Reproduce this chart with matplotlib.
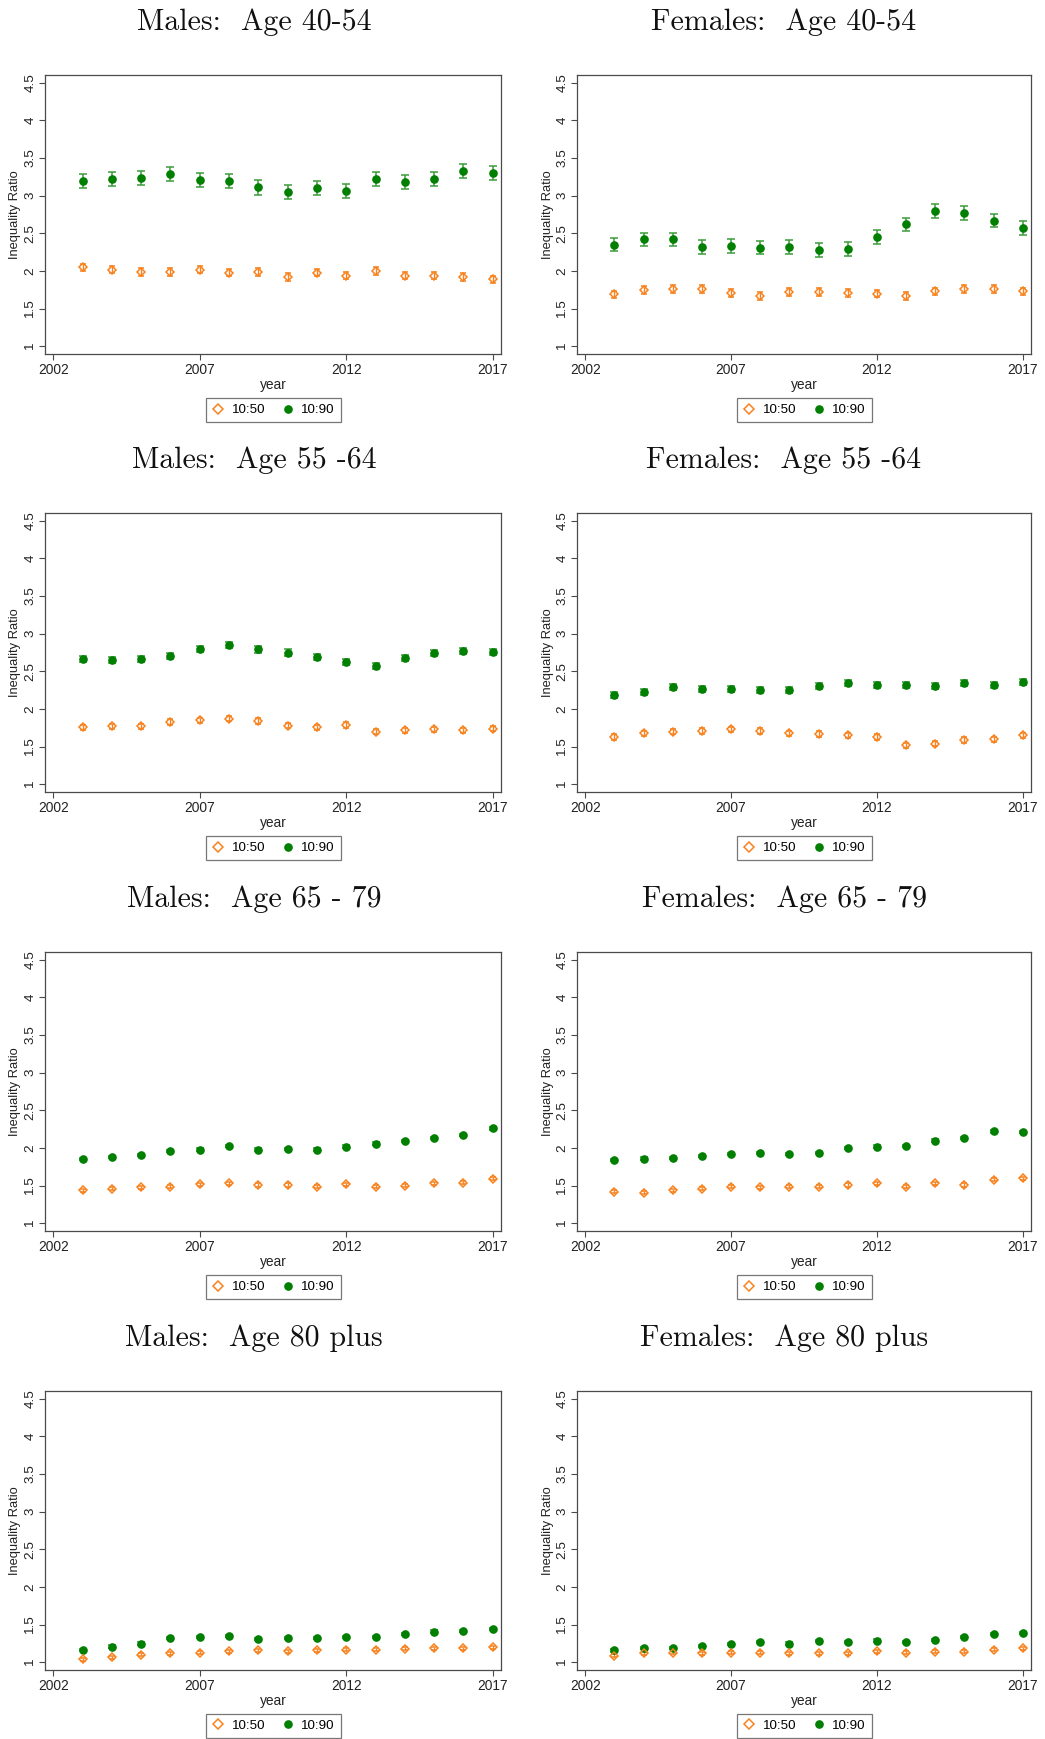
import matplotlib
matplotlib.use("Agg")
import matplotlib.pyplot as plt
from matplotlib.lines import Line2D

years = list(range(2003, 2018))

titles = ["Males:  Age 40-54", "Females:  Age 40-54",
          "Males:  Age 55 -64", "Females:  Age 55 -64",
          "Males:  Age 65 - 79", "Females:  Age 65 - 79",
          "Males:  Age 80 plus", "Females:  Age 80 plus"]

# 10:90 ratios
r90_m4054 = [3.19, 3.22, 3.23, 3.29, 3.21, 3.19, 3.11, 3.05, 3.10, 3.06, 3.22, 3.18, 3.22, 3.33, 3.30]
r90_f4054 = [2.35, 2.42, 2.42, 2.32, 2.33, 2.31, 2.32, 2.28, 2.29, 2.45, 2.62, 2.80, 2.77, 2.67, 2.57]
r90_m5564 = [2.66, 2.65, 2.66, 2.70, 2.80, 2.85, 2.79, 2.75, 2.69, 2.62, 2.57, 2.68, 2.74, 2.77, 2.76]
r90_f5564 = [2.18, 2.23, 2.29, 2.26, 2.26, 2.25, 2.25, 2.30, 2.34, 2.32, 2.32, 2.31, 2.34, 2.32, 2.36]
r90_m6579 = [1.85, 1.88, 1.91, 1.96, 1.98, 2.03, 1.98, 1.99, 1.98, 2.02, 2.06, 2.09, 2.13, 2.17, 2.26]
r90_f6579 = [1.84, 1.86, 1.87, 1.89, 1.92, 1.93, 1.92, 1.93, 2.00, 2.02, 2.03, 2.10, 2.13, 2.22, 2.21]
r90_m80 = [1.17, 1.21, 1.25, 1.32, 1.34, 1.35, 1.31, 1.32, 1.32, 1.34, 1.34, 1.38, 1.41, 1.42, 1.44]
r90_f80 = [1.16, 1.19, 1.19, 1.22, 1.24, 1.27, 1.25, 1.28, 1.27, 1.29, 1.27, 1.30, 1.34, 1.38, 1.39]

# 10:50 ratios
r50_m4054 = [2.05, 2.02, 1.99, 1.99, 2.02, 1.98, 1.99, 1.92, 1.98, 1.94, 2.00, 1.94, 1.94, 1.92, 1.89]
r50_f4054 = [1.69, 1.75, 1.76, 1.76, 1.71, 1.67, 1.72, 1.72, 1.71, 1.70, 1.67, 1.73, 1.76, 1.76, 1.73]
r50_m5564 = [1.76, 1.77, 1.77, 1.83, 1.85, 1.87, 1.84, 1.78, 1.76, 1.79, 1.70, 1.72, 1.73, 1.72, 1.74]
r50_f5564 = [1.63, 1.68, 1.70, 1.71, 1.73, 1.71, 1.68, 1.67, 1.65, 1.63, 1.52, 1.54, 1.59, 1.60, 1.65]
r50_m6579 = [1.44, 1.46, 1.48, 1.49, 1.52, 1.53, 1.51, 1.51, 1.49, 1.52, 1.49, 1.50, 1.53, 1.54, 1.59]
r50_f6579 = [1.42, 1.41, 1.44, 1.46, 1.49, 1.48, 1.49, 1.49, 1.51, 1.53, 1.49, 1.53, 1.51, 1.58, 1.60]
r50_m80 = [1.04, 1.07, 1.10, 1.12, 1.13, 1.15, 1.16, 1.15, 1.16, 1.17, 1.17, 1.18, 1.19, 1.19, 1.20]
r50_f80 = [1.09, 1.12, 1.13, 1.12, 1.13, 1.13, 1.12, 1.12, 1.12, 1.15, 1.13, 1.14, 1.14, 1.17, 1.19]

r90_all = [r90_m4054, r90_f4054, r90_m5564, r90_f5564, r90_m6579, r90_f6579, r90_m80, r90_f80]
r50_all = [r50_m4054, r50_f4054, r50_m5564, r50_f5564, r50_m6579, r50_f6579, r50_m80, r50_f80]

# estimated half-widths of confidence intervals per panel
err90 = [0.095, 0.09, 0.04, 0.04, 0.015, 0.015, 0.015, 0.015]
err50 = [0.05, 0.05, 0.035, 0.035, 0.02, 0.02, 0.02, 0.02]

yticks = [1, 1.5, 2, 2.5, 3, 3.5, 4, 4.5]
ytick_labels = ["1", "1.5", "2", "2.5", "3", "3.5", "4", "4.5"]
xticks = [2002, 2007, 2012, 2017]
legend_labels = ["10:50", "10:90"]

ORANGE = "#f7821e"
GREEN = "#007f00"
GREEN_ERR = "#3c9c3c"
FRAME = "#4a4a4a"
SANS = ["Liberation Sans", "DejaVu Sans"]

W, H = 1045, 1739
fig = plt.figure(figsize=(W / 100, H / 100), dpi=100)

col_left = [45, 577]
col_width = [456, 454]
row_top = [75, 513, 952, 1391]
ax_h = 279
title_cx = [254, 784]

for i in range(8):
    r, c = divmod(i, 2)
    x0 = col_left[c] / W
    y0 = 1 - (row_top[r] + ax_h) / H
    ax = fig.add_axes([x0, y0, col_width[c] / W, ax_h / H])

    ax.errorbar(years, r90_all[i], yerr=err90[i], fmt="o", color=GREEN,
                ms=5.2, ecolor=GREEN_ERR, elinewidth=1.1, capsize=2.6,
                capthick=1.1, zorder=3)
    ax.errorbar(years, r50_all[i], yerr=err50[i], fmt="D", color=ORANGE,
                mfc="none", mec=ORANGE, mew=1.1, ms=4.5, ecolor=ORANGE,
                elinewidth=1.0, capsize=2.4, capthick=1.0, zorder=3)

    ax.set_xlim(2001.72, 2017.28)
    ax.set_ylim(0.90, 4.60)
    ax.set_yticks(yticks)
    ax.set_yticklabels(ytick_labels, rotation=90, va="center",
                       family=SANS, fontsize=9.7, color="#222222")
    ax.set_xticks(xticks)
    ax.set_xticklabels([str(x) for x in xticks], family=SANS,
                       fontsize=9.9, color="#222222")
    ax.tick_params(axis="both", direction="out", length=4.3, width=0.8,
                   color=FRAME, pad=2)
    for s in ax.spines.values():
        s.set_color(FRAME)
        s.set_linewidth(0.9)

    ax.set_ylabel("Inequality Ratio", family=SANS, fontsize=9.3,
                  color="#222222")
    ax.yaxis.set_label_coords(-23.5 / col_width[c], 0.5)
    ax.set_xlabel("year", family=SANS, fontsize=9.9, color="#222222")
    ax.xaxis.set_label_coords(0.5, -24 / ax_h)

    handles = [
        Line2D([], [], ls="none", marker="D", ms=5.0, mfc="white",
               mec=ORANGE, mew=1.1),
        Line2D([], [], ls="none", marker="o", ms=5.2, color=GREEN),
    ]
    leg = ax.legend(handles, legend_labels, loc="center",
                    bbox_to_anchor=(0.5, -56 / ax_h), ncol=2,
                    frameon=True, fancybox=False, handlelength=1.0,
                    handletextpad=0.5, columnspacing=1.2, borderpad=0.45,
                    prop={"family": SANS, "size": 9.6})
    leg.get_frame().set_edgecolor("#555555")
    leg.get_frame().set_linewidth(0.9)

    ty = row_top[r] - 53
    fig.text(title_cx[c] / W, 1 - ty / H, titles[i], ha="center",
             va="center", family=["cmr10", "DejaVu Serif"], fontsize=21.5,
             color="#111111")

fig.savefig("out.png", dpi=100)
